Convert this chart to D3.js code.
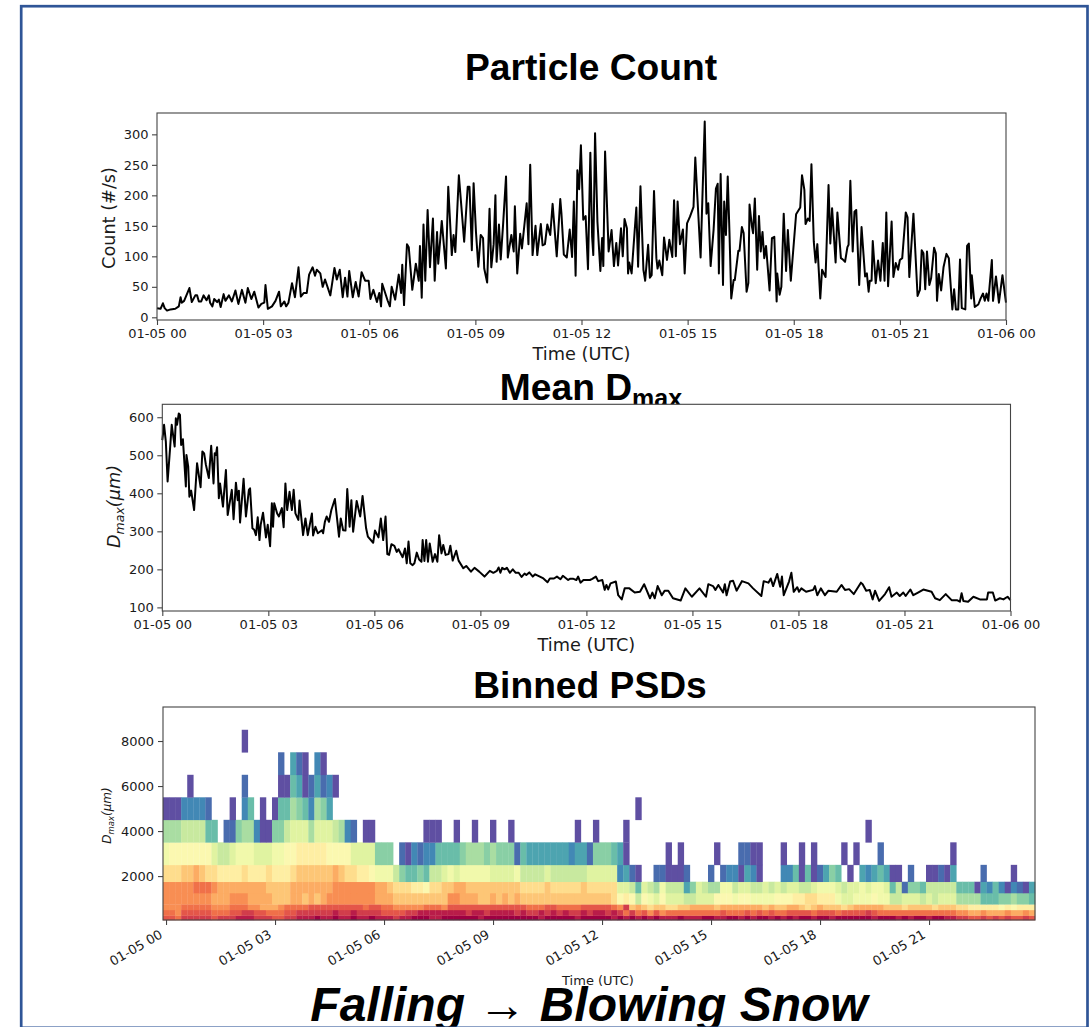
<!DOCTYPE html>
<html><head><meta charset="utf-8">
<script src="https://cdn.jsdelivr.net/npm/d3@7"></script>
<style>html,body{margin:0;padding:0;background:#fff}svg{display:block}text{fill:#1a1a1a}</style>
</head><body><div id="c"></div>
<script>
// ---- data: minutes since 01-05 00 UTC
const countMinutes=[
0,6,10,13,17,23,31,37,40,42,
46,55,59,65,68,71,75,79,84,88,
90,94,97,102,105,108,113,116,122,127,
133,138,144,150,154,160,165,172,177,182,
184,188,195,201,207,210,216,219,223,229,
234,240,244,249,254,258,264,268,271,277,
281,285,294,301,305,310,315,319,323,326,
332,337,342,347,353,359,362,367,373,377,
380,382,391,395,398,404,410,414,416,419,
424,427,433,439,444,446,449,452,455,459,
463,468,471,475,477,483,490,494,500,503,
506,512,521,527,530,534,537,541,545,549,
553,555,560,564,567,571,574,576,580,583,
587,592,595,601,605,607,611,616,619,627,
630,633,637,642,645,651,654,658,662,667,
671,678,684,686,690,695,700,704,707,710,
713,716,719,723,727,731,735,738,740,743,
747,752,755,757,760,766,771,775,779,782,
787,790,793,797,799,801,805,813,816,820,
825,828,833,836,839,843,847,849,852,857,
860,865,869,874,877,880,883,887,892,895,
899,904,910,913,922,929,932,935,939,944,
948,951,953,956,960,962,965,968,971,974,
978,980,986,988,992,995,1000,1003,1005,1009,
1011,1014,1018,1021,1024,1027,1030,1033,1039,1043,
1047,1051,1052,1056,1059,1063,1067,1070,1075,1084,
1091,1094,1098,1100,1104,1107,1110,1114,1117,1120,
1125,1128,1134,1139,1142,1145,1151,1154,1160,1163,
1167,1171,1173,1176,1180,1183,1186,1191,1195,1201,
1204,1207,1209,1212,1214,1219,1223,1227,1231,1234,
1237,1240,1246,1249,1253,1257,1260,1264,1270,1273,
1276,1283,1290,1294,1297,1300,1303,1306,1310,1313,
1318,1321,1323,1326,1330,1334,1339,1343,1349,1352,
1355,1359,1362,1365,1371,1374,1377,1381,1382,1387,
1393,1397,1401,1404,1407,1410,1416,1418,1423,1428,
1434,1440];
const countValues=[
15,14,23,15,11,13,14,18,33,24,
27,48,25,36,36,26,26,36,28,36,
24,18,30,25,29,17,38,27,36,26,
44,22,45,24,48,30,42,16,22,24,
53,14,18,27,42,18,26,18,24,56,
33,82,34,40,40,70,82,68,78,72,
50,62,36,81,62,78,33,65,34,76,
33,58,34,74,60,60,30,45,25,40,
18,55,28,18,50,29,70,40,86,20,
120,115,45,88,60,117,32,152,60,176,
82,162,60,140,88,158,80,214,102,135,
107,233,124,214,214,110,220,140,83,135,
130,80,57,178,82,120,200,91,152,95,
152,231,98,135,108,182,72,137,113,187,
120,250,102,150,102,153,118,120,152,135,
186,100,194,170,103,98,144,99,190,68,
241,210,282,160,166,79,270,132,102,302,
157,76,130,84,272,108,143,84,122,85,
146,100,161,146,72,90,72,180,83,215,
78,60,119,65,69,207,97,80,93,69,
131,94,127,99,192,100,190,120,144,72,
154,165,181,262,98,321,170,187,84,143,
211,219,72,235,53,190,135,231,138,31,
61,61,109,109,148,138,42,56,185,149,
138,195,78,166,108,140,97,117,44,130,
132,26,72,37,50,170,76,143,60,169,
180,233,209,153,162,158,251,124,90,120,
31,78,66,217,121,179,90,172,97,95,
91,115,119,224,108,173,176,53,148,67,
72,42,60,60,125,56,93,60,122,60,
172,51,157,66,89,78,94,97,172,164,
66,170,35,45,110,105,46,108,53,64,
114,105,27,71,44,82,104,97,13,46,
13,13,95,15,13,117,121,31,69,17,
21,31,39,27,39,27,94,27,67,24,
69,24];
const dmaxMinutes=[
0,3,6,9,13,16,21,23,25,28,
30,32,35,40,41,44,46,49,54,59,
65,68,71,74,79,83,87,89,91,93,
96,98,103,108,111,118,121,125,128,130,
132,138,142,147,149,153,156,159,162,165,
167,171,176,179,183,186,188,190,195,198,
203,206,209,212,216,220,223,226,231,233,
239,243,247,254,256,260,264,271,273,276,
279,283,287,293,296,300,303,307,311,314,
318,321,324,330,336,340,346,349,358,361,
367,371,375,379,382,385,389,394,398,401,
408,412,415,418,421,425,428,432,436,440,
442,445,448,451,454,459,463,467,470,474,
477,481,486,489,493,499,503,511,516,524,
530,538,547,556,562,568,571,574,577,581,
585,590,595,600,605,610,615,618,623,629,
633,641,647,654,658,665,670,676,680,689,
692,698,703,706,710,715,726,730,736,740,
747,751,754,757,761,770,774,780,785,793,
802,811,818,828,832,836,841,848,853,859,
867,880,888,899,912,923,927,935,939,944,
952,955,958,964,969,975,984,995,1003,1017,
1021,1029,1033,1037,1044,1049,1052,1055,1064,1068,
1072,1078,1081,1085,1093,1105,1108,1112,1118,1125,
1131,1145,1153,1159,1166,1174,1186,1189,1195,1201,
1206,1210,1217,1227,1234,1238,1247,1252,1258,1262,
1270,1275,1283,1292,1306,1312,1320,1330,1340,1349,
1354,1357,1360,1368,1377,1388,1400,1402,1410,1414,
1422,1428,1435,1440];
const dmaxValues=[
540,580,536,431,514,580,523,597,580,610,
606,527,542,418,501,470,391,407,356,479,
416,510,505,475,440,525,426,505,501,521,
387,426,365,461,343,409,332,428,382,407,
323,438,339,409,413,308,304,290,337,277,
317,349,284,317,261,374,312,374,347,339,
361,311,426,356,404,356,409,347,330,381,
290,334,290,347,289,312,295,303,295,325,
339,325,356,385,343,286,334,303,302,411,
312,382,299,380,339,393,308,286,270,302,
284,334,277,339,240,238,266,262,246,253,
232,255,216,273,216,211,216,244,226,220,
277,222,277,220,268,220,240,220,290,242,
264,238,240,262,223,249,223,203,209,194,
204,194,181,196,191,196,205,191,204,200,
204,191,200,191,191,180,189,185,192,181,
187,181,176,166,176,176,181,174,183,172,
175,175,172,181,165,172,172,175,181,169,
172,146,159,147,163,168,132,121,150,150,
139,141,161,124,139,124,156,132,144,144,
124,118,150,128,150,128,161,156,146,159,
139,161,132,168,170,144,169,163,150,130,
169,165,176,156,188,154,181,132,168,191,
141,153,141,150,141,146,156,132,150,132,
144,141,159,146,148,135,165,161,144,146,
121,144,117,135,153,128,139,130,139,130,
147,132,139,147,141,124,119,135,119,119,
115,137,117,115,128,121,121,139,139,118,
124,121,128,119];

// PSD bins (µm edges) and colour levels per 10‑min column (0 = no data, 1..21 = low..high)
const psdEdges=[50,250,500,750,1250,1750,2500,3500,4500,5500,6500,7500,8500];
const psdRow0=[18,18,17,19,19,19,19,19,18,19,19,19,20,20,20,19,19,19,18,18,19,19,20,20,20,21,20,20,21,20,20,21,20,20,21,20,20,20,19,20,20,21,21,21,20,20,21,21,21,21,21,21,20,21,21,21,21,21,21,21,21,21,20,21,21,21,21,21,20,21,21,21,21,21,20,21,20,21,20,21,20,21,20,20,20,21,20,20,20,21,21,20,20,21,21,20,21,20,21,21,20,21,20,21,20,21,21,20,21,21,20,21,21,21,21,21,21,20,21,21,21,20,21,20,21,21,20,21,21,20,20,19,19,18,18,19,18,19,18,19,18,18,19,18];
const psdRow1=[17,17,16,18,18,18,18,18,17,17,17,18,18,19,19,18,18,17,17,17,18,18,19,19,19,19,19,19,20,19,19,20,19,19,19,19,18,18,18,18,19,19,20,20,20,20,20,20,20,20,19,20,20,19,20,20,20,20,19,20,19,19,20,19,20,19,20,19,19,20,19,20,20,19,20,19,17,19,17,18,16,18,16,17,17,17,17,17,17,17,17,17,18,17,17,17,18,17,18,17,18,17,17,18,18,18,18,17,18,18,18,17,18,18,18,18,19,18,17,17,17,17,17,17,17,17,17,17,17,17,17,16,16,15,15,16,15,15,15,16,15,15,16,15];
const psdRow2=[16,16,16,17,17,17,17,17,16,16,16,17,17,17,16,16,15,15,15,16,17,17,17,17,18,18,18,18,18,18,18,18,18,17,18,18,17,17,16,16,16,16,16,17,17,17,16,18,18,18,18,18,18,18,18,18,18,18,18,18,17,17,17,18,18,17,17,17,17,18,18,18,18,18,17,16,19,14,15,14,13,14,14,13,13,14,14,15,15,15,15,14,15,15,15,15,15,15,15,14,15,14,14,15,15,14,13,14,15,14,14,14,13,14,15,15,15,15,15,14,14,14,13,14,14,14,14,13,14,14,14,13,13,12,12,12,12,12,11,12,11,12,12,12];
const psdRow3=[16,16,16,16,16,16,16,16,15,15,15,16,16,16,15,15,15,15,14,14,14,15,15,14,15,14,15,16,16,16,16,16,16,16,16,15,15,15,14,14,14,14,14,14,14,14,14,16,16,15,15,15,14,14,15,14,15,14,15,14,14,14,14,14,14,14,14,14,14,14,14,14,14,14,13,11,12,11,8,11,10,9,11,9,9,9,8,8,9,9,9,11,11,11,10,11,11,10,10,10,10,11,11,11,12,12,13,13,12,12,12,10,9,9,10,10,10,11,10,10,8,8,9,9,9,8,9,8,9,9,9,7,7,7,7,5,5,5,6,6,7,6,6,5];
const psdRow4=[16,16,16,16,16,17,17,17,16,15,15,15,15,15,15,15,15,14,14,14,14,15,15,15,15,15,15,15,16,16,16,16,16,16,16,15,15,14,13,13,13,12,12,11,13,13,14,14,15,15,14,14,14,14,14,14,14,14,14,13,13,13,13,14,13,13,13,13,13,14,13,13,13,13,13,9,9,8,5,9,8,7,10,8,8,8,4,6,9,8,7,7,10,10,8,9,9,8,8,9,8,9,8,9,9,8,8,9,10,10,10,9,8,9,9,10,9,10,10,9,5,8,2,6,6,5,8,8,8,8,8,5,5,5,1,4,3,5,3,1,3,2,1,4];
const psdRow5=[13,13,13,14,14,15,14,13,13,12,12,12,12,13,12,12,12,13,12,12,12,13,14,14,14,14,14,14,15,14,13,13,12,12,11,10,10,10,8,6,5,5,6,5,8,8,9,10,9,10,10,10,10,10,9,9,9,9,10,8,8,8,8,9,8,8,8,8,8,8,9,9,9,9,9,3,4,2,1,0,0,2,2,1,1,1,2,0,0,0,2,0,2,3,3,1,4,3,1,0,0,0,3,3,5,1,5,1,2,4,6,5,0,1,0,4,3,4,5,4,1,1,0,2,0,0,1,1,2,1,4,0,0,0,0,2,0,0,0,0,1,0,0,0];
const psdRow6=[10,11,11,11,11,11,11,11,9,8,8,9,10,10,10,9,9,9,10,10,11,11,12,12,12,12,12,11,11,11,11,9,9,9,9,6,6,6,0,2,1,3,2,3,3,5,5,5,5,6,7,7,7,6,7,6,6,6,2,5,4,4,4,4,4,4,4,3,4,4,2,6,6,6,5,4,1,0,0,0,0,0,0,1,0,1,0,0,0,0,0,1,0,0,0,2,2,1,1,0,0,0,1,0,0,1,0,1,0,0,0,0,1,0,1,0,0,0,2,0,0,0,0,0,0,0,0,0,0,0,1];
const psdRow7=[7,7,7,8,8,8,8,5,5,0,2,2,6,7,7,3,1,1,6,6,8,9,9,9,7,9,9,9,8,7,3,2,0,1,1,0,0,0,0,0,0,0,0,1,1,1,0,0,1,0,0,1,0,0,1,0,0,1,0,0,0,0,0,0,0,0,0,0,1,0,0,1,0,0,0,0,1,0,0,0,0,0,0,0,0,0,0,0,0,0,0,0,0,0,0,0,0,0,0,0,0,0,0,0,0,0,0,0,0,0,0,0,0,0,0,0,1];
const psdRow8=[1,1,1,3,3,3,3,2,0,0,0,1,0,3,5,0,1,0,1,5,5,7,6,5,3,7,6,4,0,0,0,0,0,0,0,0,0,0,0,0,0,0,0,0,0,0,0,0,0,0,0,0,0,0,0,0,0,0,0,0,0,0,0,0,0,0,0,0,0,0,0,0,0,0,0,0,0,0,1];
const psdRow9=[0,0,0,0,1,0,0,0,0,0,0,0,0,2,0,0,0,0,0,1,1,5,4,1,2,4,2,3,1];
const psdRow10=[0,0,0,0,0,0,0,0,0,0,0,0,0,0,0,0,0,0,0,2,0,4,2,1,0,3,1];
const psdRow11=[0,0,0,0,0,0,0,0,0,0,0,0,0,1];
const psdRows=[psdRow0,psdRow1,psdRow2,psdRow3,psdRow4,psdRow5,psdRow6,psdRow7,psdRow8,psdRow9,psdRow10,psdRow11];

const tickHours=[0,3,6,9,12,15,18,21,24];
const xTickLabels=["01-05 00","01-05 03","01-05 06","01-05 09","01-05 12","01-05 15","01-05 18","01-05 21","01-06 00"];
const countTicks=[0,50,100,150,200,250,300];
const dmaxTicks=[100,200,300,400,500,600];
const psdTicks=[2000,4000,6000,8000];

// ---- drawing
const W=1091,H=1027;
const svg=d3.select("#c").append("svg").attr("width",W).attr("height",H).attr("viewBox",`0 0 ${W} ${H}`);
svg.append("rect").attr("width",W).attr("height",H).attr("fill","#fff");
const defs=svg.append("defs");
defs.append("filter").attr("id","soft").attr("x","-2%").attr("y","-2%").attr("width","104%").attr("height","104%")
  .append("feGaussianBlur").attr("stdDeviation",0.6);
defs.append("filter").attr("id","softLine").attr("filterUnits","userSpaceOnUse").attr("x",0).attr("y",0).attr("width",W).attr("height",H)
  .append("feGaussianBlur").attr("stdDeviation",0.35);
const TITLE="'Liberation Sans',Arial,sans-serif", TICK="'DejaVu Sans',sans-serif";
const SPINE="#444";

function title(txt,cx,y,size){
  return svg.append("text").attr("x",cx).attr("y",y).attr("text-anchor","middle")
    .attr("font-family",TITLE).attr("font-weight",700).attr("font-size",size).style("fill","#000").text(txt);
}
title("Particle Count",591,80,37.2);
const t2=title("Mean D",591,400,37.2);
t2.append("tspan").attr("dy",7).attr("font-size",25).text("max");
title("Binned PSDs",590,698,37.2);

function frame(L,R,T,B){
  svg.append("rect").attr("x",L).attr("y",T).attr("width",R-L).attr("height",B-T).attr("fill","#fff");
}
function spines(L,R,T,B){
  svg.append("rect").attr("x",L).attr("y",T).attr("width",R-L).attr("height",B-T)
    .attr("fill","none").attr("stroke",SPINE).attr("stroke-width",1.1);
}
function styleAxis(g,size){
  g.attr("font-family",TICK).attr("font-size",size);
  g.select(".domain").remove();
  g.selectAll(".tick line").attr("stroke",SPINE).attr("stroke-width",1.1);
  g.selectAll(".tick text").style("fill","#1a1a1a");
}
function linePanel(cfg){
  const {L,R,T,B}=cfg;
  frame(L,R,T,B);
  const x=d3.scaleLinear().domain([0,1440]).range([L,R]);
  const y=d3.scaleLinear().domain(cfg.yDomain).range([B,T]);
  const line=d3.line().x(d=>x(d[0])).y(d=>y(d[1]));
  svg.append("path").datum(d3.zip(cfg.minutes,cfg.values)).attr("d",line)
    .attr("fill","none").attr("stroke","#000").attr("stroke-width",2).attr("stroke-linejoin","round")
    .attr("filter","url(#softLine)");
  spines(L,R,T,B);
  const ax=d3.axisBottom(x).tickValues(tickHours.map(h=>h*60)).tickFormat((d,i)=>xTickLabels[i]).tickSize(5).tickPadding(3.5);
  styleAxis(svg.append("g").attr("transform",`translate(0,${B})`).call(ax),13);
  const ay=d3.axisLeft(y).tickValues(cfg.yTicks).tickSize(5).tickPadding(3.5).tickFormat(d3.format("d"));
  styleAxis(svg.append("g").attr("transform",`translate(${L},0)`).call(ay),13);
  svg.append("text").attr("x",(L+R)/2).attr("y",B+40).attr("text-anchor","middle")
    .attr("font-family",TICK).attr("font-size",17.7).text("Time (UTC)");
  return {x,y};
}
linePanel({L:157,R:1006,T:113,B:320,yDomain:[-4.4,335],yTicks:countTicks,minutes:countMinutes,values:countValues});
svg.append("text").attr("transform","translate(115,218) rotate(-90)").attr("text-anchor","middle")
  .attr("font-family",TICK).attr("font-size",17.7).text("Count (#/s)");

linePanel({L:162.3,R:1010.5,T:404.3,B:611,yDomain:[90.5,634],yTicks:dmaxTicks,minutes:dmaxMinutes,values:dmaxValues});
const yl=svg.append("text").attr("transform","translate(120,506.5) rotate(-90)").attr("text-anchor","middle")
  .attr("font-family",TICK).attr("font-size",17.7).attr("font-style","italic").text("D");
yl.append("tspan").attr("dy",4).attr("font-size",12.5).text("max");
yl.append("tspan").attr("dy",-4).text("(μm)");

// heatmap
const hL=163,hR=1035,hT=707,hB=920;
frame(hL,hR,hT,hB);
const hx=d3.scaleLinear().domain([-5,1435]).range([hL,hR]);
const hy=d3.scaleLinear().domain([50,9511]).range([hB,hT]);
const colour=lv=>d3.interpolateSpectral(1-(lv-1)/20);
const cells=[];
psdRows.forEach((row,r)=>row.forEach((lv,c)=>{ if(lv>0) cells.push({r,c,lv}); }));
svg.append("g").attr("filter","url(#soft)").selectAll("rect").data(cells).join("rect")
  .attr("x",d=>hx(d.c*10-5)).attr("width",d=>hx(d.c*10+5)-hx(d.c*10-5)+0.3)
  .attr("y",d=>hy(psdEdges[d.r+1])).attr("height",d=>hy(psdEdges[d.r])-hy(psdEdges[d.r+1])+0.3)
  .attr("fill",d=>colour(d.lv));
spines(hL,hR,hT,hB);
const hax=d3.axisBottom(hx).tickValues(tickHours.slice(0,8).map(h=>h*60)).tickFormat((d,i)=>xTickLabels[i]).tickSize(5);
const hg=svg.append("g").attr("transform",`translate(0,${hB})`).call(hax);
styleAxis(hg,13);
hg.selectAll(".tick text").attr("text-anchor","end").attr("dy",0).attr("y",0)
  .attr("transform","translate(-3,17) rotate(-30)");
const hay=d3.axisLeft(hy).tickValues(psdTicks).tickSize(5).tickPadding(4).tickFormat(d3.format("d"));
styleAxis(svg.append("g").attr("transform",`translate(${hL},0)`).call(hay),13);
svg.append("text").attr("x",598).attr("y",985).attr("text-anchor","middle")
  .attr("font-family",TICK).attr("font-size",13).text("Time (UTC)");
const yl3=svg.append("text").attr("transform","translate(111,815.5) rotate(-90)").attr("text-anchor","middle")
  .attr("font-family",TICK).attr("font-size",12).attr("font-style","italic").text("D");
yl3.append("tspan").attr("dy",3).attr("font-size",8.5).text("max");
yl3.append("tspan").attr("dy",-3).text("(μm)");

// bottom caption and outer border
svg.append("text").attr("x",589).attr("y",1021).attr("text-anchor","middle")
  .attr("font-family",TITLE).attr("font-weight",700).attr("font-style","italic").attr("font-size",48).style("fill","#000")
  .text("Falling → Blowing Snow");
svg.append("rect").attr("x",21.2).attr("y",6.2).attr("width",1066.3).attr("height",1021.6)
  .attr("fill","none").attr("stroke","#2f5597").attr("stroke-width",2.7);
</script></body></html>
